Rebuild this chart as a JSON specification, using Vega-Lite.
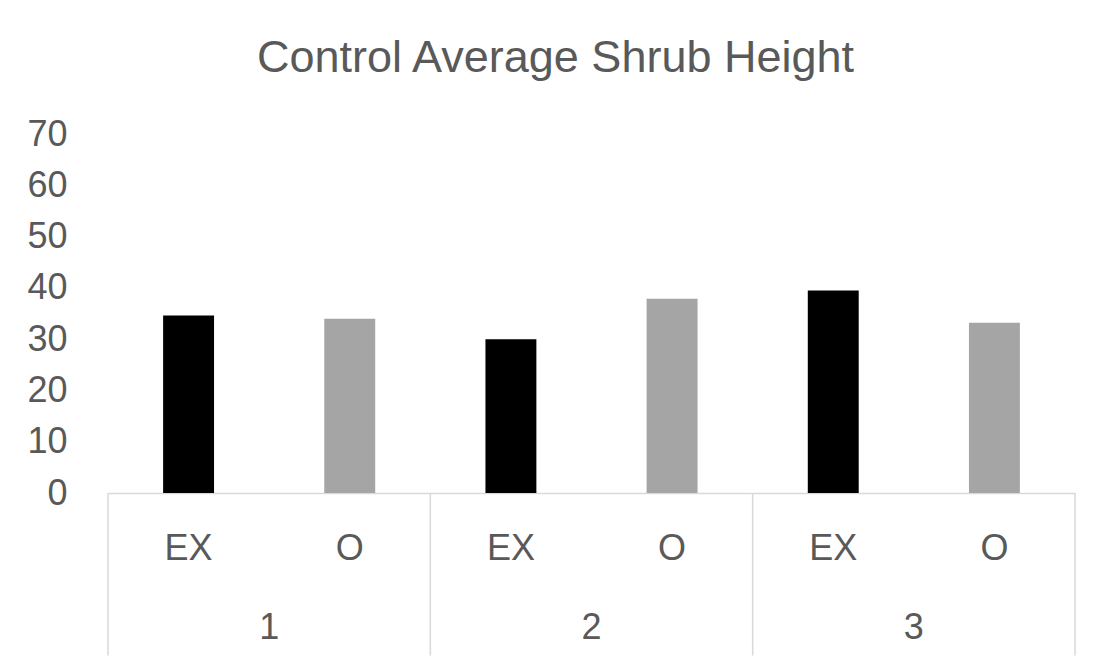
{
  "$schema": "https://vega.github.io/schema/vega-lite/v6.json",
  "autosize": "none",
  "width": 967,
  "height": 359,
  "padding": {"left": 108, "top": 134, "right": 18, "bottom": 171},
  "background": "white",
  "config": {
    "view": {"stroke": null},
    "font": "Liberation Sans"
  },
  "title": {
    "text": "Control Average Shrub Height",
    "fontSize": 45,
    "font": "Liberation Sans",
    "fontWeight": "normal",
    "color": "#595959",
    "anchor": "middle",
    "frame": "group",
    "dx": -36,
    "offset": 35
  },
  "data": {
    "values": [
      {"group": "1", "type": "EX", "key": "1-EX", "value": 34.6},
      {"group": "1", "type": "O", "key": "1-O", "value": 34.0},
      {"group": "2", "type": "EX", "key": "2-EX", "value": 30.0},
      {"group": "2", "type": "O", "key": "2-O", "value": 37.9},
      {"group": "3", "type": "EX", "key": "3-EX", "value": 39.5},
      {"group": "3", "type": "O", "key": "3-O", "value": 33.2}
    ]
  },
  "layer": [
    {
      "mark": {"type": "bar", "width": {"band": 0.316}},
      "encoding": {
        "x": {
          "field": "key",
          "type": "nominal",
          "sort": null,
          "scale": {"paddingInner": 0, "paddingOuter": 0},
          "axis": {
            "title": null,
            "labelExpr": "split(datum.label, '-')[1]",
            "labelFontSize": 36,
            "labelColor": "#595959",
            "labelAngle": 0,
            "labelPadding": 38,
            "labelBaseline": "top",
            "ticks": false,
            "domainColor": "#d9d9d9",
            "domainWidth": 1.5,
            "grid": false
          }
        },
        "y": {
          "field": "value",
          "type": "quantitative",
          "scale": {"domain": [0, 70], "nice": false},
          "axis": {
            "title": null,
            "values": [0, 10, 20, 30, 40, 50, 60, 70],
            "labelFontSize": 36,
            "labelColor": "#595959",
            "labelPadding": 41,
            "ticks": false,
            "domain": false,
            "grid": false
          }
        },
        "color": {
          "field": "type",
          "type": "nominal",
          "scale": {"domain": ["EX", "O"], "range": ["#000000", "#a5a5a5"]},
          "legend": null
        }
      }
    },
    {
      "transform": [{"filter": "datum.type == 'EX'"}],
      "mark": {"type": "rule", "color": "#d9d9d9", "strokeWidth": 1.5},
      "encoding": {
        "x": {"field": "key", "type": "nominal", "sort": null, "bandPosition": 0},
        "y": {"datum": 0},
        "y2": {"datum": -31.7}
      }
    },
    {
      "transform": [{"filter": "datum.key == '3-O'"}],
      "mark": {"type": "rule", "color": "#d9d9d9", "strokeWidth": 1.5},
      "encoding": {
        "x": {"field": "key", "type": "nominal", "sort": null, "bandPosition": 1},
        "y": {"datum": 0},
        "y2": {"datum": -31.7}
      }
    },
    {
      "transform": [{"filter": "datum.type == 'O'"}],
      "mark": {"type": "text", "fontSize": 36, "color": "#595959", "baseline": "middle", "align": "center"},
      "encoding": {
        "x": {"field": "key", "type": "nominal", "sort": null, "bandPosition": 0},
        "y": {"datum": -26.4},
        "text": {"field": "group"}
      }
    }
  ]
}
